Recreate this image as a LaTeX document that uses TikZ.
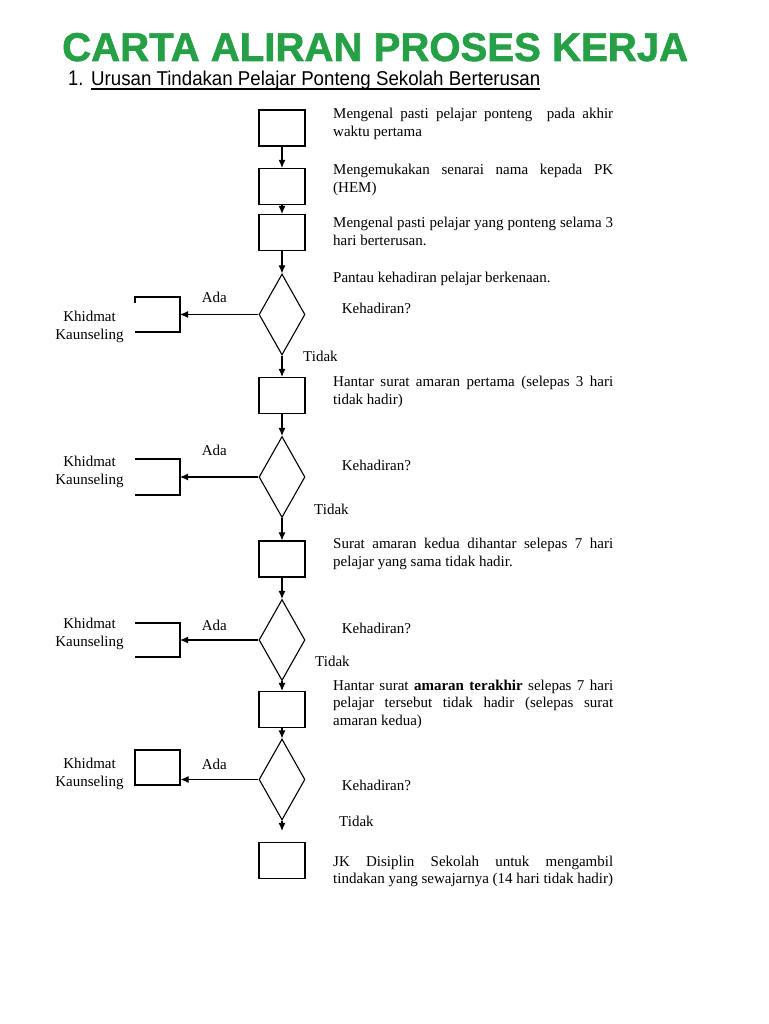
\documentclass[tikz,border=0pt]{standalone}
\usepackage{fontspec}
\setmainfont{Liberation Serif}
\newfontfamily\headfont{Liberation Sans}
\newfontfamily\titlefont{Liberation Sans Bold}[FakeBold=1.5]
\usetikzlibrary{shapes.geometric,arrows.meta,positioning}
\definecolor{titlegreen}{RGB}{38,160,70}
\newcommand{\bodyfont}{\fontsize{15}{18}\selectfont}

\begin{document}
\begin{tikzpicture}[x=1pt,y=-1pt,
    stepbox/.style={draw,line width=1.1pt,minimum width=46pt,minimum height=36pt,inner sep=0},
    decision/.style={draw,diamond,line width=1.1pt,minimum width=46pt,minimum height=81pt,inner sep=0},
    flow/.style={line width=1.1pt,-{Latex[length=8pt,width=7pt]}},
    note/.style={anchor=north west,text width=280pt,align=justify,inner sep=0,font=\bodyfont},
    lbl/.style={anchor=base west,inner sep=0,font=\bodyfont},
    side/.style={anchor=north,align=center,inner sep=0,font=\bodyfont}]

    \useasboundingbox (0,0) rectangle (768,1024);

    \def\bx{282}	 %x of the main column
    \def\tx{333}	 %left edge of the notes
    \def\kx{135}	 %left end of the side brackets
    \def\ky{180}	 %right side of the side brackets

    %TITLE
    \node[anchor=base west,inner sep=0,text=titlegreen] (title) at (62,61)
        {\resizebox{626pt}{!}{\fontsize{42}{44}\titlefont CARTA ALIRAN PROSES KERJA}};
    \node[anchor=base west,inner sep=0] (num) at (68,86)
        {\resizebox{!}{14.5pt}{\scalebox{0.87}[1]{\headfont 1.}}};
    \node[anchor=base west,inner sep=0] (sub) at (91,86)
        {\resizebox{449pt}{14.5pt}{\headfont Urusan Tindakan Pelajar Ponteng Sekolah Berterusan}};
    \draw[line width=1.1pt] ([yshift=-3pt]sub.base west) -- ([yshift=-3pt]sub.base east);

    %MAIN COLUMN
    \node[stepbox] (b1) at (\bx,128) {};
    \node[stepbox] (b2) at (\bx,186.5) {};
    \node[stepbox] (b3) at (\bx,232.5) {};
    \node[decision] (d1) at (\bx,314.5) {};
    \node[stepbox] (b4) at (\bx,395.5) {};
    \node[decision] (d2) at (\bx,477) {};
    \node[stepbox] (b5) at (\bx,559) {};
    \node[decision] (d3) at (\bx,640) {};
    \node[stepbox] (b6) at (\bx,709.5) {};
    \node[decision] (d4) at (\bx,779.5) {};
    \node[stepbox] (b7) at (\bx,860.5) {};

    \foreach \a/\b in {b1/b2,b2/b3,b3/d1,d1/b4,b4/d2,d2/b5,b5/d3,d3/b6,b6/d4}{
        \draw[flow] (\a) -- (\b);
    } %end of arrow loop
    \draw[flow,shorten >=11pt] (d4) -- (b7);	%this one stops short of the box

    %NOTES
    \node[note] (n1) at (\tx,105.4) {\strut Mengenal pasti pelajar ponteng\ \ pada akhir\linebreak waktu pertama};
    \node[note] (n2) at (\tx,161.4) {\strut Mengemukakan senarai nama kepada PK\linebreak (HEM)};
    \node[note] (n3) at (\tx,214.4) {\strut Mengenal pasti pelajar yang ponteng selama 3\linebreak hari berterusan.};
    \node[lbl] (n4) at (\tx,282) {Pantau kehadiran pelajar berkenaan.};
    \node[note] (n5) at (\tx,374.1) {\strut Hantar surat amaran pertama (selepas 3 hari\linebreak tidak hadir)};
    \node[note] (n6) at (\tx,535.7) {\strut Surat amaran kedua dihantar selepas 7 hari\linebreak pelajar yang sama tidak hadir.};
    \node[note,font=\fontsize{15}{17.4}\selectfont] (n7) at (\tx,678.1)
        {\strut Hantar surat \textbf{amaran terakhir} selepas 7 hari\linebreak pelajar tersebut tidak hadir (selepas surat\linebreak amaran kedua)};
    \node[note,font=\fontsize{15}{17.4}\selectfont] (n8) at (\tx,854.1)
        {\strut JK Disiplin Sekolah untuk mengambil\linebreak tindakan yang sewajarnya (14 hari tidak hadir)};

    %QUESTION AND ANSWER LABELS
    \foreach \n/\q/\tdx/\tdy/\ady in {1/313.7/303/361.5/302.7, 2/470.7/314/514/455,
                                     3/633.7/315/666.5/630, 4/790.7/339/826.7/769}{
        \node[lbl] (q\n) at (341.7,\q) {Kehadiran?};
        \node[lbl] (no\n) at (\tdx,\tdy) {Tidak};
        \node[lbl] (yes\n) at (201.7,\ady) {Ada};
    } %end of label loop

    %SIDE BRANCHES
    \draw[line width=1.1pt] (\kx,303)--(\kx,297)--(\ky,297)--(\ky,332)--(\kx,332);
    \draw[line width=1.1pt] (\kx,459)--(\ky,459)--(\ky,495)--(\kx,495);
    \draw[line width=1.1pt] (\kx,623)--(\ky,623)--(\ky,657)--(\kx,657);
    \coordinate (k1) at (\ky,314.5);
    \coordinate (k2) at (\ky,477);
    \coordinate (k3) at (\ky,640);
    \node[stepbox,minimum height=35pt,minimum width=45pt] (k4) at (157.5,767.5) {};

    \draw[flow] (d1) -- (k1);
    \draw[flow] (d2) -- (k2);
    \draw[flow] (d3) -- (k3);
    \draw[flow] (d4.west) -- (d4.west -| k4.east);

    \node[side] (s1) at (89.5,309.1) {\strut Khidmat\\Kaunseling};
    \node[side] (s2) at (89.5,454.1) {\strut Khidmat\\Kaunseling};
    \node[side] (s3) at (89.5,615.7) {\strut Khidmat\\Kaunseling};
    \node[side] (s4) at (89.5,755.7) {\strut Khidmat\\Kaunseling};
\end{tikzpicture}
\end{document}
